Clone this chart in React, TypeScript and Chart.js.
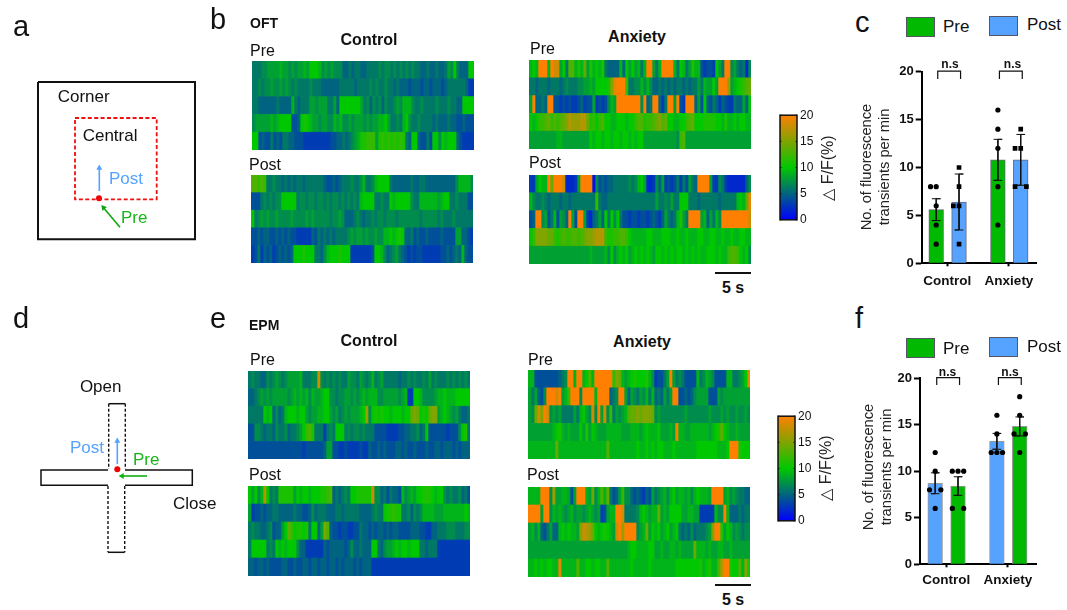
import React, { useEffect, useRef } from "react";
import { Chart, registerables } from "chart.js";

Chart.register(...registerables);

const FONT = '"Liberation Sans", Arial, sans-serif';
const BLUE = "#55a2ff";
const GREEN = "#00b900";
const TEXT_GREEN = "#19b519";

// Heat map values, dF/F (%), five trials per panel, read column by column.
const oftControlPre = [
  [6,6,6,7,7,8,8,8,8,9,8,8,7,8,7,8,8,9,8,10,10,10,9,7,8,7,8,7,7,7,5,5,6,5,6,6,5,5,6,6,6,6,7,6,7,7,6,7,6,7,6,7,6,7,6,6,5,5,6,5,5,6,5,5,6,8,7,10,6,5,5,5,10,10],
  [6,6,7,6,7,7,8,7,7,8,7,8,7,6,7,6,6,6,6,7,6,6,6,5,5,5,5,5,5,6,6,6,6,6,5,6,6,6,6,7,6,7,6,6,7,6,6,5,6,5,5,5,4,5,5,5,4,5,5,4,5,5,5,4,5,6,6,6,6,6,6,5,3,3],
  [6,6,5,5,5,5,5,5,6,5,5,5,5,9,6,5,6,6,6,8,8,7,8,8,8,6,6,8,5,10,10,10,10,10,10,10,8,6,7,5,7,6,7,5,7,6,6,7,8,7,9,9,9,7,6,6,7,6,6,6,6,7,6,6,6,7,6,6,5,5,10,10,10,10],
  [7,8,8,8,8,8,9,8,9,10,10,10,10,4,4,5,10,11,10,9,8,8,7,8,8,7,7,9,8,9,7,7,8,7,8,8,8,7,8,7,8,8,9,9,10,8,6,6,7,6,9,10,7,6,6,7,6,6,6,6,5,6,5,5,5,6,5,5,4,4,5,4,4,4],
  [10,10,4,5,4,4,6,4,5,4,6,6,5,5,4,4,4,3,3,3,3,3,3,3,3,3,4,4,5,5,6,5,6,7,8,9,11,11,12,12,12,8,11,12,11,12,11,12,11,12,11,6,5,10,10,5,4,4,6,4,10,10,7,10,9,10,10,10,5,4,3,3,3,3],
];
const oftControlPost = [
  [13,13,12,13,12,6,6,7,6,6,5,6,5,6,5,6,6,5,6,6,6,6,6,6,5,4,4,5,4,5,6,6,6,7,6,6,7,9,6,6,7,9,10,10,10,10,6,5,5,5,5,5,5,6,5,5,6,6,5,5,5,5,5,5,5,5,5,5,7,9,9,9,9,7],
  [4,4,4,6,7,6,7,6,7,7,10,10,10,10,10,6,7,7,6,7,7,6,7,7,6,7,6,7,7,6,7,6,7,6,7,6,9,10,10,10,10,6,6,7,6,6,10,9,10,10,10,10,10,7,6,6,9,9,9,9,9,9,8,9,10,10,6,6,7,6,6,6,4,4],
  [10,6,7,8,7,8,7,7,8,7,7,7,7,8,7,7,7,7,8,7,8,7,7,7,7,7,6,7,7,8,7,5,5,5,6,7,6,5,6,6,7,6,7,7,6,7,7,7,6,7,7,7,7,7,7,7,6,7,7,7,7,7,6,7,6,6,6,7,6,6,6,6,6,6],
  [4,4,5,4,5,5,4,4,5,4,5,4,5,4,4,3,3,3,3,3,5,4,6,5,6,5,6,5,6,6,6,6,7,8,7,8,8,7,8,7,7,8,7,7,9,9,10,9,10,11,10,5,5,6,4,5,4,4,5,4,4,4,4,5,4,4,4,4,8,8,5,5,4,3],
  [3,4,6,3,5,4,5,3,4,5,4,5,4,5,10,10,10,11,10,10,10,6,6,5,7,9,10,10,10,11,10,10,10,3,3,3,3,3,3,3,4,10,10,9,7,5,6,7,8,6,5,4,3,4,3,4,4,3,3,3,3,3,3,4,4,5,4,5,6,5,9,5,4,4],
];
const oftAnxietyPre = [
  [9,10,9,20,20,20,9,20,18,18,8,10,6,13,13,9,11,9,14,8,11,9,10,9,11,6,5,5,5,5,9,5,10,8,10,8,9,6,9,20,20,8,6,9,20,20,20,20,9,6,10,9,6,8,11,9,9,4,3,4,4,3,10,8,6,20,20,7,8,6,5,6,2,7],
  [6,6,5,6,6,6,5,6,6,6,5,6,7,6,6,6,7,7,8,8,9,8,10,10,10,10,11,15,19,20,20,20,12,6,6,7,7,9,7,9,7,5,5,6,5,6,5,6,5,6,6,5,6,5,6,6,8,6,9,8,8,10,8,20,20,20,16,8,9,10,11,12,13,14],
  [8,20,5,5,6,5,20,20,4,4,3,4,3,4,3,3,4,5,3,4,4,8,3,4,3,4,7,9,8,20,20,20,20,20,20,20,20,7,20,5,6,20,20,5,3,6,20,20,8,20,4,3,20,20,20,5,8,4,10,5,4,6,5,3,5,4,3,3,6,5,5,8,5,10],
  [10,9,10,12,12,13,14,12,13,12,13,14,15,17,16,16,16,17,17,14,11,12,10,12,13,10,10,9,9,10,10,10,9,10,10,12,13,13,11,12,12,13,14,15,13,14,10,10,9,9,10,10,12,13,14,10,10,10,11,11,11,11,10,10,9,11,9,9,10,9,10,10,9,9],
  [8,8,8,8,8,8,8,8,8,9,9,8,8,8,8,8,8,8,8,8,10,9,10,10,9,10,10,9,10,10,9,10,10,9,10,9,10,10,8,8,8,8,8,8,8,8,8,8,8,7,12,13,8,8,8,8,8,8,8,8,8,8,8,8,8,8,8,8,8,8,8,8,8,8],
];
const oftAnxietyPost = [
  [3,3,8,10,9,9,20,14,20,20,20,18,2,2,2,3,8,20,20,20,20,1,7,4,5,4,5,5,6,6,6,6,6,7,6,7,9,10,8,2,2,3,7,5,8,3,4,3,4,6,3,6,4,8,6,5,20,20,20,20,8,3,3,7,6,3,2,2,2,2,2,2,5,7],
  [9,7,6,6,7,6,5,6,6,6,5,6,6,5,6,6,6,6,6,6,6,6,12,6,5,5,6,6,6,6,6,6,6,6,6,6,6,6,6,6,6,6,8,6,6,7,6,8,6,6,10,10,10,6,6,6,5,6,6,6,6,6,6,5,6,6,6,6,6,9,10,9,14,19],
  [4,5,20,20,7,8,4,6,9,4,8,7,5,20,8,4,20,20,8,3,2,5,6,8,5,10,6,10,7,10,6,4,4,3,4,4,3,4,4,3,4,5,4,3,5,8,6,5,6,9,11,8,6,20,20,20,20,8,9,5,8,6,9,7,20,20,20,20,20,20,20,20,20,18],
  [10,12,15,15,15,15,14,14,12,11,12,13,12,12,13,13,12,13,14,15,15,16,17,17,17,12,11,11,12,12,13,13,12,10,9,9,9,9,9,10,10,9,9,9,10,10,10,9,9,10,9,9,10,9,9,9,10,10,9,9,10,10,9,9,10,9,9,10,9,9,10,10,9,9],
  [8,8,8,8,8,8,8,8,8,8,8,8,8,8,8,8,8,8,8,8,9,8,8,8,8,9,7,10,7,9,10,9,10,8,9,10,9,10,9,10,9,8,10,10,9,10,9,10,9,10,10,9,10,9,10,9,10,9,9,10,10,10,9,10,9,9,12,13,13,12,10,9,10,7],
];
const epmControlPre = [
  [6,7,6,6,5,5,7,6,7,8,7,6,7,8,8,8,8,9,6,6,6,7,7,18,7,6,7,6,7,6,7,6,6,8,7,7,6,8,7,6,7,9,6,7,8,6,6,6,6,6,5,6,6,7,6,7,6,6,7,6,8,6,7,6,6,6,7,6,7,6,7,6,7,6],
  [5,5,6,7,8,7,8,7,8,8,8,8,8,7,8,9,8,9,8,9,7,9,8,8,9,10,10,7,7,6,7,7,8,8,7,8,7,8,9,8,9,9,9,7,7,8,8,8,8,8,7,8,9,3,3,10,10,9,7,7,7,7,8,9,9,10,9,9,9,10,10,10,10,10],
  [6,6,6,6,6,10,9,10,5,7,5,6,9,10,10,10,9,10,10,8,7,8,8,9,9,10,10,8,7,8,6,7,8,7,8,8,8,9,10,16,7,10,11,10,11,10,10,9,10,10,10,9,10,10,14,15,14,10,11,10,14,15,15,8,9,10,9,8,7,8,6,5,5,6],
  [4,4,7,7,6,5,6,6,5,7,6,6,7,5,6,6,7,8,10,12,13,11,6,6,6,3,6,7,6,10,10,10,6,7,6,7,7,6,7,6,6,6,4,4,4,4,3,3,3,3,4,4,5,5,6,6,7,5,6,10,4,4,4,4,4,4,3,4,4,4,7,10,11,6],
  [4,4,4,4,4,4,4,4,4,4,4,4,4,4,4,4,4,4,3,4,4,4,4,4,4,5,8,8,4,4,3,3,4,3,3,3,3,4,3,3,5,4,4,5,4,5,4,4,4,5,5,4,5,4,4,5,4,4,4,5,4,4,5,5,4,5,5,5,4,5,4,5,5,5],
];
const epmControlPost = [
  [10,8,10,7,9,17,10,6,7,6,11,11,11,11,11,8,10,9,10,10,9,10,10,10,11,11,12,13,5,6,5,6,7,6,10,10,11,11,11,11,11,18,7,7,5,6,4,6,5,5,4,9,7,8,9,8,10,10,11,11,11,10,9,10,10,7,6,7,6,6,7,5,6,4],
  [8,3,4,4,5,4,5,5,6,6,5,5,5,5,5,6,5,5,4,4,5,7,5,6,6,6,5,5,5,6,6,5,6,6,6,6,6,5,5,5,5,6,7,6,6,10,11,11,12,11,11,6,6,7,5,7,6,7,9,9,9,9,8,8,8,9,9,9,9,9,9,9,10,9],
  [6,7,6,6,5,5,6,7,4,5,5,8,10,14,12,10,11,11,10,11,6,10,10,5,8,15,13,5,4,4,3,4,4,3,3,4,4,6,5,5,4,5,4,5,5,4,5,4,5,5,4,4,4,4,5,5,5,4,4,3,3,5,5,6,6,6,7,7,7,6,6,6,7,7],
  [6,10,10,10,10,10,6,7,6,10,9,10,9,10,10,10,7,5,5,3,3,3,3,3,3,5,4,5,5,5,5,5,4,5,7,5,5,6,5,5,5,10,10,6,5,7,8,8,9,10,9,10,10,9,10,10,10,6,6,5,6,6,6,3,3,3,3,3,3,3,3,3,3,3],
  [5,5,4,5,5,4,5,4,4,4,4,5,5,4,4,5,4,4,5,5,4,5,5,4,5,5,4,5,5,4,5,4,5,5,5,4,5,4,5,5,5,3,3,3,3,3,3,3,3,3,3,3,3,3,3,3,3,3,3,3,3,3,3,3,3,3,3,3,3,3,3,3,3,3],
];
const epmAnxietyPre = [
  [9,9,4,4,4,4,4,4,4,4,5,6,7,20,20,9,20,20,9,10,13,9,20,20,20,20,20,20,12,15,14,9,8,9,10,11,10,10,10,11,9,7,3,4,4,6,8,20,8,6,7,6,4,4,4,4,9,6,7,9,8,7,4,4,4,4,9,9,6,6,7,8,10,19],
  [8,6,8,5,4,7,20,20,20,18,20,8,9,12,20,20,20,7,20,20,20,20,9,20,20,20,20,5,6,7,20,20,8,5,8,7,6,8,7,9,6,9,5,6,5,8,6,8,20,20,4,4,5,4,5,7,8,8,8,8,4,4,4,8,7,8,8,8,8,8,8,8,8,8],
  [8,7,14,18,15,20,18,7,8,7,8,6,6,6,6,8,6,9,10,8,7,18,7,20,8,18,7,12,6,8,7,8,9,13,14,14,15,14,15,15,15,14,7,8,7,7,7,7,7,7,7,7,8,7,7,7,7,7,7,7,8,7,7,7,8,7,8,7,7,8,7,7,8,7],
  [8,8,8,8,8,8,8,8,9,10,11,9,8,9,8,8,8,10,8,11,8,10,9,8,8,8,9,9,9,9,9,8,8,8,9,9,9,8,9,10,9,9,9,10,8,8,8,9,8,20,9,9,8,8,9,9,9,9,9,9,8,9,10,11,14,10,9,8,8,9,8,8,8,8],
  [9,9,9,9,9,9,9,9,9,14,9,9,9,9,9,9,9,9,9,9,9,9,9,9,9,9,13,9,9,9,9,9,9,9,9,9,10,9,9,10,9,10,9,10,10,9,9,9,10,9,9,9,9,9,9,9,10,10,10,10,10,10,10,9,9,9,10,20,20,20,11,10,10,10],
];
const epmAnxietyPost = [
  [9,9,9,9,20,20,20,7,16,8,8,9,9,8,4,8,20,20,20,9,8,14,7,9,13,9,14,6,4,5,8,12,7,7,5,4,5,4,3,5,4,8,6,7,8,9,7,9,10,8,9,9,8,9,7,9,10,9,9,9,8,20,20,20,20,8,9,7,8,7,6,6,5,5],
  [20,20,20,20,8,20,20,7,9,8,9,8,7,8,9,7,8,8,7,8,9,8,7,8,3,4,8,9,9,20,20,18,6,6,6,6,7,9,10,9,8,9,9,14,8,9,8,10,10,10,10,8,8,9,9,8,8,3,3,3,3,3,9,7,7,20,9,5,5,5,6,5,6,6],
  [8,9,7,9,5,4,6,8,5,5,9,10,9,10,9,9,8,15,18,17,16,14,10,9,10,11,10,9,8,18,20,16,20,20,20,20,7,8,9,14,8,10,9,10,8,9,10,8,9,10,6,5,6,5,7,5,6,6,6,7,8,15,20,20,11,8,10,9,7,8,7,6,7,7],
  [8,8,8,8,8,8,8,8,8,8,8,8,8,8,8,8,8,8,8,8,8,8,8,8,8,8,8,8,8,8,8,8,8,9,10,10,9,9,9,9,10,10,8,8,9,8,8,9,9,8,9,8,8,8,8,14,9,9,9,8,9,8,8,9,9,8,8,9,8,8,8,8,8,8],
  [9,9,10,9,10,9,10,10,9,9,19,9,9,9,9,9,13,9,9,10,10,9,10,10,9,9,13,9,9,9,9,9,9,9,10,9,9,9,9,9,10,9,9,9,9,9,9,9,9,10,10,10,10,10,10,10,10,11,9,10,11,9,9,13,17,20,20,11,10,10,13,9,15,11],
];

// Bar panels
const groupLabels = ["Control", "Anxiety"];
const cPreMeans = [5.6, 10.8];
const cPostMeans = [6.4, 10.8];
const cPreErrors = [1.14, 2.14];
const cPostErrors = [2.92, 2.65];
const cPreDots = [[8, 8, 6, 4, 2], [16, 14, 12, 8, 4]];
const cPostDots = [[10, 8, 6, 6, 2], [14, 12, 12, 8, 8]];
const fPostMeans = [8.7, 13.2];
const fPreMeans = [8.4, 14.8];
const fPostErrors = [1.12, 0.85];
const fPreErrors = [1.0, 1.02];
const fPostDots = [[12, 10, 8, 8, 6], [16, 14, 12, 12, 12]];
const fPreDots = [[10, 10, 10, 6, 6], [18, 16, 14, 14, 12]];
const yTicks = [0, 5, 10, 15, 20];
// Sideways spread of equal-valued dots (in dot widths)
const cPreSpread = [[-1, 0, 0, 0, 0], [0, 0, 0, 0, 0]];
const cPostSpread = [[0, 0, -1, 0, 0], [0, -1, 0, -1, 1]];
const fPostSpread = [[0, 0, -1, 1, 0], [0, 0, -1, 0, 1]];
const fPreSpread = [[-1, 0, 1, -1, 1], [0, 0, -1, 1, 0]];

// Colour map anchors at 0, 10, 20
const colorAnchors = [[0, 0, 255], [0, 200, 0], [255, 128, 0]];
const colorbarTicks = [0, 5, 10, 15, 20];

function colorFor(v: number) {
  const t = Math.max(0, Math.min(1, v / 20)) * 2;
  const i = t >= 1 ? 1 : 0;
  const f = t - i;
  const a = colorAnchors[i];
  const b = colorAnchors[i + 1];
  return `rgb(${a.map((c, k) => Math.round(c + (b[k] - c) * f)).join(",")})`;
}

function heatConfig(rows: number[][]): any {
  const cols = rows[0].length;
  const datasets = Array.from({ length: cols }, (_, c) => ({
    data: rows.map(() => 1),
    backgroundColor: rows.map((r) => colorFor(r[c])),
    borderWidth: 0,
    barPercentage: 1,
    categoryPercentage: 1,
  }));
  return {
    type: "bar",
    data: { labels: rows.map((_, i) => `Trial ${i + 1}`), datasets },
    options: {
      indexAxis: "y",
      responsive: false,
      animation: false,
      devicePixelRatio: 1,
      events: [],
      layout: { padding: 0, autoPadding: false },
      plugins: { legend: { display: false }, tooltip: { enabled: false } },
      scales: {
        x: { type: "linear", stacked: true, min: 0, max: cols, display: false },
        y: { type: "category", stacked: true, display: false },
      },
    },
  };
}

function colorbarConfig(): any {
  const framePlugin = {
    id: "frame",
    afterDatasetsDraw(chart: any) {
      const { ctx, chartArea: a, scales } = chart;
      ctx.save();
      ctx.strokeStyle = "#111";
      ctx.lineWidth = 1.5;
      ctx.strokeRect(a.left, a.top, a.right - a.left, a.bottom - a.top);
      ctx.lineWidth = 1;
      colorbarTicks.forEach((t) => {
        const y = scales.y.getPixelForValue(t);
        ctx.beginPath();
        ctx.moveTo(a.left, y);
        ctx.lineTo(a.left + 1.5, y);
        ctx.moveTo(a.right, y);
        ctx.lineTo(a.right - 1.5, y);
        ctx.stroke();
      });
      ctx.restore();
    },
  };
  return {
    type: "bar",
    data: {
      labels: ["dF/F"],
      datasets: [{
        data: [20],
        barPercentage: 1,
        categoryPercentage: 1,
        borderWidth: 0,
        backgroundColor: (c: any) => {
          const a = c.chart.chartArea;
          if (!a) return colorFor(10);
          const g = c.chart.ctx.createLinearGradient(0, a.bottom, 0, a.top);
          g.addColorStop(0, colorFor(0));
          g.addColorStop(0.5, colorFor(10));
          g.addColorStop(1, colorFor(20));
          return g;
        },
      }],
    },
    plugins: [framePlugin],
    options: {
      responsive: false,
      animation: false,
      devicePixelRatio: 1,
      events: [],
      layout: { padding: { left: 4, top: 8, bottom: 8, right: 0 }, autoPadding: false },
      plugins: { legend: { display: false }, tooltip: { enabled: false } },
      scales: {
        x: { display: false },
        y: {
          position: "right",
          min: 0,
          max: 20,
          afterBuildTicks: (s: any) => { s.ticks = colorbarTicks.map((value) => ({ value })); },
          afterFit: (s: any) => { s.width = 22; },
          border: { display: false },
          grid: { display: false, drawTicks: false, tickLength: 0 },
          ticks: { color: "#111", padding: 3, font: { family: FONT, size: 12 } },
        },
      },
    },
  };
}

interface BarSide {
  name: string; color: string; means: number[]; errors: number[]; dots: number[][]; spread: number[][]; style: string; radius: number;
}
interface BarPanel {
  first: BarSide;
  second: BarSide;
  xMin: number; xMax: number; axisWidth: number; padTop: number; padRight: number; belowAxis: number; labelPad: number;
  edge: string;
}

function barConfig(p: BarPanel): any {
  const sides = [{ s: p.first, off: -0.18 }, { s: p.second, off: 0.19 }];
  const datasets: any[] = [];
  sides.forEach(({ s, off }) => {
    datasets.push({
      type: "bar",
      label: s.name,
      grouped: false,
      order: 3,
      data: s.means.map((y, i) => ({ x: i + off, y })),
      backgroundColor: s.color,
      borderColor: p.edge,
      borderWidth: 1,
      maxBarThickness: 14.7,
      barPercentage: 1,
      categoryPercentage: 1,
    });
  });
  const cap = 0.07;
  sides.forEach(({ s, off }) => {
    s.means.forEach((m, i) => {
      const x = i + off;
      const hi = m + s.errors[i];
      const lo = m - s.errors[i];
      datasets.push({
        type: "line",
        order: 2,
        data: [
          { x: x - cap, y: hi }, { x: x + cap, y: hi }, { x, y: hi },
          { x, y: lo }, { x: x - cap, y: lo }, { x: x + cap, y: lo },
        ],
        borderColor: "#111",
        borderWidth: 1,
        pointRadius: 0,
        fill: false,
      });
    });
    s.dots.forEach((vals, i) => {
      datasets.push({
        type: "line",
        order: 1,
        showLine: false,
        data: vals.map((y, k) => ({ x: i + off + s.spread[i][k] * 0.092, y })),
        pointStyle: s.style,
        pointRadius: s.radius,
        pointBackgroundColor: "#000",
        pointBorderWidth: 0,
      });
    });
  });
  groupLabels.forEach((_, i) => {
    datasets.push({
      type: "line",
      order: 0,
      clip: false,
      data: [
        { x: i - 0.155, y: 19.25 }, { x: i - 0.155, y: 20.05 },
        { x: i + 0.215, y: 20.05 }, { x: i + 0.215, y: 19.25 },
      ],
      borderColor: "#111",
      borderWidth: 1.2,
      pointRadius: 0,
      fill: false,
    });
  });
  return {
    type: "bar",
    data: { datasets },
    options: {
      responsive: false,
      animation: false,
      devicePixelRatio: 1,
      events: [],
      layout: { padding: { top: p.padTop, right: p.padRight, left: 0, bottom: 0 }, autoPadding: false },
      plugins: { legend: { display: false }, tooltip: { enabled: false } },
      scales: {
        x: {
          type: "linear",
          offset: false,
          min: p.xMin,
          max: p.xMax,
          afterBuildTicks: (s: any) => { s.ticks = groupLabels.map((_, value) => ({ value })); },
          afterFit: (s: any) => { s.height = p.belowAxis; },
          border: { color: "#000", width: 2 },
          grid: { offset: false, drawOnChartArea: false, color: "#000", tickWidth: 2, tickLength: 3 },
          ticks: {
            autoSkip: false,
            maxRotation: 0,
            color: "#111",
            padding: p.labelPad,
            font: { family: FONT, size: 13.5, weight: "bold" },
            callback: (v: number) => groupLabels[v],
          },
        },
        y: {
          min: 0,
          max: 20,
          afterBuildTicks: (s: any) => { s.ticks = yTicks.map((value) => ({ value })); },
          afterFit: (s: any) => { s.width = p.axisWidth; },
          border: { color: "#000", width: 2 },
          grid: { drawOnChartArea: false, color: "#000", tickWidth: 2, tickLength: 6 },
          ticks: { color: "#111", padding: 2, font: { family: FONT, size: 13, weight: "bold" } },
        },
      },
    },
  };
}

const panelC: BarPanel = {
  first: { name: "Pre", color: GREEN, means: cPreMeans, errors: cPreErrors, dots: cPreDots, spread: cPreSpread, style: "circle", radius: 2.6 },
  second: { name: "Post", color: BLUE, means: cPostMeans, errors: cPostErrors, dots: cPostDots, spread: cPostSpread, style: "rect", radius: 3.3 },
  xMin: -0.415, xMax: 1.449, axisWidth: 61.7, padTop: 26.7, padRight: 13.3, belowAxis: 31.7, labelPad: 7, edge: "#667",
};
const panelF: BarPanel = {
  first: { name: "Post", color: BLUE, means: fPostMeans, errors: fPostErrors, dots: fPostDots, spread: fPostSpread, style: "circle", radius: 2.6 },
  second: { name: "Pre", color: GREEN, means: fPreMeans, errors: fPreErrors, dots: fPreDots, spread: fPreSpread, style: "circle", radius: 2.6 },
  xMin: -0.426, xMax: 1.454, axisWidth: 60, padTop: 28, padRight: 14, belowAxis: 35.7, labelPad: 5, edge: "#999",
};

// Schematic outlines, in the picture units of each schematic
const line = (pts: number[][], color: string, width: number, dash: number[] = []) => ({
  data: pts.map(([x, y]) => ({ x, y })),
  showLine: true,
  borderColor: color,
  borderWidth: width,
  borderDash: dash,
  borderJoinStyle: "miter",
  pointRadius: 0,
  fill: false,
});
const arrow = (pts: number[][], color: string, rotation: number) => ({
  ...line(pts, color, 1.6),
  pointRadius: [0, 3.4],
  pointStyle: "triangle",
  pointRotation: rotation,
  pointBackgroundColor: color,
  pointBorderWidth: 0,
});
const dot = (x: number, y: number) => ({
  data: [{ x, y }],
  showLine: false,
  pointRadius: 3,
  pointBackgroundColor: "#f00000",
  pointBorderWidth: 0,
});

const arenaOuter = [[38, 82], [195, 82], [195, 239.3], [38, 239.3], [38, 82]];
const arenaCentre = [[75, 118], [156.7, 118], [156.7, 199.3], [75, 199.3], [75, 118]];
const arenaPost = [[99.3, 191], [99.3, 168]];
const arenaPre = [[120, 227.3], [103.5, 207.7]];
const mazeCloseLeft = [[108, 170], [41, 170], [41, 185.3], [108, 185.3]];
const mazeCloseRight = [[125, 170], [192.3, 170], [192.3, 185.3], [125, 185.3]];
const mazeOpenTop = [[108.7, 103.7], [125.3, 103.7]];
const mazeOpenBottom = [[108, 252.3], [124.7, 252.3]];
const mazeOpenSides = [
  [[108.7, 103.7], [108.7, 169]],
  [[125.3, 103.7], [125.3, 169]],
  [[108, 186], [108, 252.3]],
  [[124.7, 186], [124.7, 252.3]],
];
const mazePost = [[117.3, 164], [117.3, 141]];
const mazePre = [[147, 176], [122, 176]];

function schematicConfig(datasets: any[]): any {
  return {
    type: "scatter",
    data: { datasets },
    options: {
      responsive: false,
      animation: false,
      devicePixelRatio: 1,
      events: [],
      layout: { padding: 0, autoPadding: false },
      plugins: { legend: { display: false }, tooltip: { enabled: false } },
      scales: {
        x: { type: "linear", min: 0, max: 240, display: false },
        y: { type: "linear", min: 0, max: 300, reverse: true, display: false },
      },
    },
  };
}
const arenaConfig = () => schematicConfig([
  line(arenaOuter, "#111", 2),
  line(arenaCentre, "#f01010", 1.8, [4, 2.4]),
  arrow(arenaPost, BLUE, 0),
  arrow(arenaPre, "#12a512", -40),
  dot(99, 198.3),
]);
const mazeConfig = () => schematicConfig([
  line(mazeCloseLeft, "#111", 1.5),
  line(mazeCloseRight, "#111", 1.5),
  line(mazeOpenTop, "#111", 1.5),
  line(mazeOpenBottom, "#111", 1.5),
  ...mazeOpenSides.map((s) => line(s, "#111", 1.4, [3, 2])),
  arrow(mazePost, BLUE, 0),
  arrow(mazePre, "#12b012", -90),
  dot(117.3, 169.3),
]);

function Plot({ left, top, width, height, make, blur }: { left: number; top: number; width: number; height: number; make: () => any; blur?: boolean }) {
  const ref = useRef<HTMLCanvasElement | null>(null);
  useEffect(() => {
    const chart = new Chart(ref.current as HTMLCanvasElement, make());
    return () => chart.destroy();
  }, [make]);
  return (
    <canvas
      ref={ref}
      width={width}
      height={height}
      style={{ position: "absolute", left, top, width, height, filter: blur ? "blur(0.6px)" : undefined }}
    />
  );
}

function Label({ x, y, children, size = 16, bold, color = "#111", align = "left", rotate }: {
  x: number; y: number; children: React.ReactNode; size?: number; bold?: boolean; color?: string; align?: "left" | "center"; rotate?: boolean;
}) {
  const tx = align === "center" ? "-50%" : "0";
  return (
    <div
      style={{
        position: "absolute", left: x, top: y, fontFamily: FONT, fontSize: size, fontWeight: bold ? 700 : 400,
        color, lineHeight: 1.2, whiteSpace: "pre", textAlign: "center",
        transform: `translate(${tx}, -50%)${rotate ? " rotate(-90deg)" : ""}`,
      }}
    >
      {children}
    </div>
  );
}

function Swatch({ x, y, w, h, color, edge }: { x: number; y: number; w: number; h: number; color: string; edge: string }) {
  return <div style={{ position: "absolute", left: x, top: y, width: w, height: h, boxSizing: "border-box", background: color, border: `1px solid ${edge}` }} />;
}
function ScaleBar({ x, y, w }: { x: number; y: number; w: number }) {
  return <div style={{ position: "absolute", left: x, top: y, width: w, height: 2, background: "#111" }} />;
}

const heatPanels: { rows: number[][]; left: number; top: number; height: number }[] = [
  { rows: oftControlPre, left: 252, top: 61, height: 89 },
  { rows: oftControlPost, left: 251, top: 175, height: 88 },
  { rows: oftAnxietyPre, left: 529, top: 60, height: 89 },
  { rows: oftAnxietyPost, left: 529, top: 175, height: 89 },
  { rows: epmControlPre, left: 248, top: 371, height: 88 },
  { rows: epmControlPost, left: 248, top: 486, height: 90 },
  { rows: epmAnxietyPre, left: 528, top: 370, height: 89 },
  { rows: epmAnxietyPost, left: 528, top: 487, height: 90 },
];
const heatMakers = heatPanels.map((p) => () => heatConfig(p.rows));
const makeC = () => barConfig(panelC);
const makeF = () => barConfig(panelF);

export default function App() {
  return (
    <div style={{ position: "absolute", left: 0, top: 0, width: 1067, height: 610, background: "#fff", overflow: "hidden" }}>
      {heatPanels.map((p, i) => (
        <Plot key={i} left={p.left} top={p.top} width={222} height={p.height} make={heatMakers[i]} blur />
      ))}
      <Plot left={776} top={104.7} width={43} height={125.3} make={colorbarConfig} />
      <Plot left={773.7} top={406} width={43} height={125.3} make={colorbarConfig} />
      <Plot left={860} top={45} width={190} height={250} make={makeC} />
      <Plot left={860} top={350} width={190} height={250} make={makeF} />
      <Plot left={0} top={0} width={240} height={300} make={arenaConfig} />
      <Plot left={0} top={300} width={240} height={300} make={mazeConfig} />

      <Label x={13} y={26} size={29}>a</Label>
      <Label x={210} y={19} size={29}>b</Label>
      <Label x={855} y={22} size={29}>c</Label>
      <Label x={13} y={318} size={29}>d</Label>
      <Label x={210} y={318} size={29}>e</Label>
      <Label x={855} y={318} size={29}>f</Label>

      <Label x={57.7} y={96.7} size={17}>Corner</Label>
      <Label x={82.7} y={136} size={17}>Central</Label>
      <Label x={109} y={178.7} size={17} color={BLUE}>Post</Label>
      <Label x={121} y={217.7} size={17} color={TEXT_GREEN}>Pre</Label>
      <Label x={100.7} y={387.3} size={17} align="center">Open</Label>
      <Label x={70} y={447.7} size={17} color={BLUE}>Post</Label>
      <Label x={133} y={460} size={17} color={TEXT_GREEN}>Pre</Label>
      <Label x={173} y={504} size={17}>Close</Label>

      <Label x={250} y={23} size={14} bold>OFT</Label>
      <Label x={249} y={325} size={14} bold>EPM</Label>
      <Label x={369} y={40} bold align="center">Control</Label>
      <Label x={637} y={37} bold align="center">Anxiety</Label>
      <Label x={369} y={341} bold align="center">Control</Label>
      <Label x={642} y={342} bold align="center">Anxiety</Label>
      <Label x={250} y={51}>Pre</Label>
      <Label x={249} y={165}>Post</Label>
      <Label x={530} y={49}>Pre</Label>
      <Label x={529} y={163}>Post</Label>
      <Label x={250} y={360}>Pre</Label>
      <Label x={249} y={475}>Post</Label>
      <Label x={528} y={360}>Pre</Label>
      <Label x={527} y={475}>Post</Label>

      <ScaleBar x={715} y={272} w={36} />
      <Label x={733} y={288} size={16} bold align="center">5 s</Label>
      <ScaleBar x={715} y={584} w={36} />
      <Label x={733} y={600} size={16} bold align="center">5 s</Label>

      <div style={{ position: "absolute", left: 828, top: 167.5, width: 0, height: 0 }}>
        <Label x={0} y={0} size={16} align="center" color="#222" rotate>△ F/F(%)</Label>
      </div>
      <div style={{ position: "absolute", left: 826, top: 467.5, width: 0, height: 0 }}>
        <Label x={0} y={0} size={16} align="center" color="#222" rotate>△ F/F(%)</Label>
      </div>

      <Swatch x={906} y={17} w={29} h={20} color={GREEN} edge="#556" />
      <Label x={943} y={27} size={17}>Pre</Label>
      <Swatch x={989} y={16} w={29} h={20} color={BLUE} edge="#556" />
      <Label x={1027} y={25} size={17}>Post</Label>
      <Label x={950} y={63.5} size={12} bold align="center">n.s</Label>
      <Label x={1012.5} y={63.5} size={12} bold align="center">n.s</Label>
      <Label x={876} y={166.7} size={14.7} align="center" color="#222" rotate>{"No. of fluorescence\ntransients per min"}</Label>

      <Swatch x={906} y={338} w={29} h={20} color={GREEN} edge="#556" />
      <Label x={943} y={349} size={17}>Pre</Label>
      <Swatch x={989} y={337} w={29} h={20} color={BLUE} edge="#556" />
      <Label x={1027} y={347} size={17}>Post</Label>
      <Label x={947.5} y={372} size={12} bold align="center">n.s</Label>
      <Label x={1010} y={372} size={12} bold align="center">n.s</Label>
      <Label x={877.5} y={466.7} size={14.7} align="center" color="#222" rotate>{"No. of fluorescence\ntransients per min"}</Label>
    </div>
  );
}
